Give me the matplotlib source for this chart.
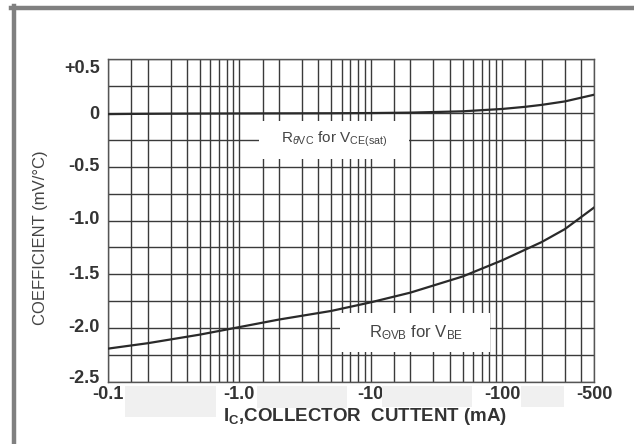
import numpy as np
import matplotlib.pyplot as plt
from matplotlib.patches import Rectangle
from matplotlib.lines import Line2D
from matplotlib.ticker import FixedLocator, NullFormatter
from matplotlib.transforms import ScaledTranslation

plt.rcParams['font.family'] = ['Liberation Sans', 'DejaVu Sans']
plt.rcParams['mathtext.fontset'] = 'custom'
plt.rcParams['mathtext.rm'] = 'Liberation Sans'
plt.rcParams['mathtext.bf'] = 'Liberation Sans:bold'
plt.rcParams['mathtext.it'] = 'Liberation Sans:italic'

# collector current magnitude (mA), plotted as negative values in the labels
current_ma = [0.1, 0.15, 0.2, 0.3, 0.5, 1, 2, 5, 10, 20, 50, 100, 150, 200, 300, 500]
r_vc = [-0.012, -0.01, -0.009, -0.008, -0.007, -0.006, -0.005, -0.004, -0.002,
        0.002, 0.014, 0.036, 0.056, 0.074, 0.106, 0.168]

current_vb = [0.1, 0.2, 0.5, 1, 2, 5, 10, 20, 50, 100, 200, 300, 500]
r_vb = [-2.19, -2.14, -2.06, -1.99, -1.92, -1.84, -1.76, -1.67, -1.52, -1.37,
        -1.2, -1.08, -0.88]

x_ticks = [0.1, 1, 10, 100, 500]
x_ticklabels = ['-0.1', '-1.0', '-10', '-100', '-500']
y_ticks = [0.5, 0, -0.5, -1.0, -1.5, -2.0, -2.5]
y_ticklabels = ['+0.5', '0', '-0.5', '-1.0', '-1.5', '-2.0', '-2.5']

W, H = 634, 444
fig = plt.figure(figsize=(W / 100, H / 100), dpi=100)
ax = fig.add_axes([108 / W, 1 - 382 / H, 486 / W, 323 / H])

ax.set_xscale('log')
ax.set_xlim(0.1, 500)
ax.set_ylim(-2.5, 0.5)

# log paper grid: 1, 1.5, 2 ... 9 in each decade
minor = []
for dec in [0.1, 1, 10, 100]:
    for m in [1.5, 2, 3, 4, 5, 6, 7, 8, 9]:
        if m * dec < 500:
            minor.append(m * dec)
ax.xaxis.set_major_locator(FixedLocator(x_ticks))
ax.xaxis.set_minor_locator(FixedLocator(minor))
ax.xaxis.set_minor_formatter(NullFormatter())
ax.set_xticklabels(x_ticklabels)
ax.set_yticks(y_ticks)
ax.set_yticklabels(y_ticklabels)
ax.yaxis.set_minor_locator(FixedLocator(np.arange(-2.5, 0.51, 0.25)))

ax.grid(which='both', color='#3a3a3a', lw=1.0)
ax.tick_params(which='both', length=0)
ax.tick_params(axis='x', pad=3)
ax.tick_params(axis='y', pad=6)
for lbl in ax.get_xticklabels() + ax.get_yticklabels():
    lbl.set_fontweight('bold')
    lbl.set_fontsize(13)
    lbl.set_color('#333333')
# end labels of the y scale sit a little inside the border lines (pixels, up = +)
y_shift = [-7, 0, 2, 3, 2, 3, 6]
for lbl, dy in zip(ax.get_yticklabels(), y_shift):
    lbl.set_transform(lbl.get_transform() + ScaledTranslation(0, dy / 100, fig.dpi_scale_trans))
for s in ax.spines.values():
    s.set_color('#555555')
    s.set_linewidth(1.0)

ax.plot(current_ma, r_vc, color='#2a2a2a', lw=1.6, zorder=4)
ax.plot(current_vb, r_vb, color='#2a2a2a', lw=1.6, zorder=4)

# white label boxes over the grid
ax.add_patch(Rectangle((1.41, -0.43), 19.5 - 1.41, 0.35, facecolor='white',
                       edgecolor='none', zorder=3))
ax.add_patch(Rectangle((5.8, -2.22), 80.7 - 5.8, 0.36, facecolor='white',
                       edgecolor='none', zorder=3))
ax.text(5.3, -0.245, r'R$_{\theta\mathrm{VC}}$ for V$_{\mathrm{CE(sat)}}$',
        ha='center', va='center', fontsize=11, color='#444444', zorder=5)
ax.text(22, -2.04, r'R$_{\Theta\mathrm{VB}}$ for V$_{\mathrm{BE}}$',
        ha='center', va='center', fontsize=12, color='#444444', zorder=5)

fig.text(365 / W, 1 - 416 / H, r'I$_{\mathbf{C}}$,COLLECTOR  CUTTENT (mA)',
         ha='center', va='center', fontsize=13.5, fontweight='bold', color='#333333')
fig.text(41 / W, 1 - 238 / H, 'COEFFICIENT (mV/°C)', rotation=90, ha='center',
         va='center', fontsize=12, color='#444444')

# light patches between the x tick labels
for x0, x1, y0, y1 in [(125, 216, 386, 417), (257, 347, 386, 408),
                       (382, 472, 386, 407), (521, 564, 386, 407)]:
    fig.patches.append(Rectangle((x0 / W, 1 - y1 / H), (x1 - x0) / W, (y1 - y0) / H,
                                 transform=fig.transFigure, facecolor='#f0f0f0',
                                 edgecolor='none', zorder=0))

# outer frame, top and left edges
fig.lines.append(Line2D([11 / W, 1], [1 - 8 / H, 1 - 8 / H], transform=fig.transFigure,
                        color='#808080', lw=3.2))
fig.lines.append(Line2D([13.5 / W, 13.5 / W], [0, 1 - 6 / H], transform=fig.transFigure,
                        color='#808080', lw=3.2))

fig.savefig('out.png', dpi=100)
